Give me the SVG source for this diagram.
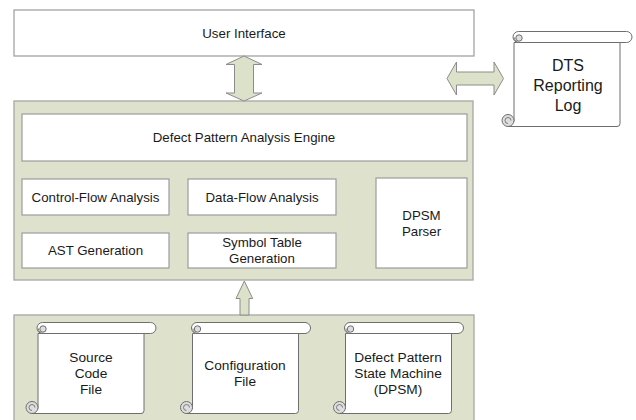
<svg xmlns="http://www.w3.org/2000/svg" width="636" height="420" viewBox="0 0 636 420">
<style>
.box{fill:#ffffff;stroke:#9c9c9c;stroke-width:1.2}
.cont{fill:#dee2cc;stroke:#a6a6a6;stroke-width:1.3}
.arr{fill:#dce1c9;stroke:#8c8c8c;stroke-width:1}
.t{font-family:"Liberation Sans",Arial,sans-serif;font-size:13.3px;fill:#1a1a1a;text-anchor:middle}
.ts{font-family:"Liberation Sans",Arial,sans-serif;font-size:13.7px;fill:#1a1a1a;text-anchor:middle}
.tl{font-family:"Liberation Sans",Arial,sans-serif;font-size:16px;fill:#1a1a1a;text-anchor:middle}
.sc{fill:#ffffff;stroke:#6e6e6e;stroke-width:1}
.curl{fill:#dedede;stroke:#6e6e6e;stroke-width:1}
.cl{fill:none;stroke:#6e6e6e;stroke-width:0.9}
</style>
<defs>
<g id="scroll">
<path class="sc" d="M1,11 L1,86 L-5,91 L104,91 A3,3 0 0 0 107,88 L107,11 Z"/>
<circle class="curl" cx="-5" cy="85" r="6"/>
<path class="cl" d="M1,91 L-5,91 M-2,85 A3,3 0 1 0 -5,88"/>
<rect class="sc" x="0" y="0" width="119" height="11" rx="5.5" ry="5.5"/>
<circle class="curl" cx="6" cy="6.5" r="3.2"/>
<path class="cl" d="M6,11 A4.5,4.5 0 0 1 1.5,6"/>
</g>
<g id="scrollT">
<path class="sc" d="M1,11 L1,90 L-5,95 L104,95 A3,3 0 0 0 107,92 L107,11 Z"/>
<circle class="curl" cx="-5" cy="89" r="6"/>
<path class="cl" d="M1,95 L-5,95 M-2,89 A3,3 0 1 0 -5,92"/>
<rect class="sc" x="0" y="0" width="119" height="11" rx="5.5" ry="5.5"/>
<circle class="curl" cx="6" cy="6.5" r="3.2"/>
<path class="cl" d="M6,11 A4.5,4.5 0 0 1 1.5,6"/>
</g>
</defs>

<g id="user-interface">
<rect class="box" x="14" y="10" width="460" height="46"/>
<text class="t" x="244" y="38">User Interface</text>
</g>

<g id="engine-container">
<rect class="cont" x="14" y="101" width="459" height="179"/>
</g>

<g id="defect-pattern-analysis-engine">
<rect class="box" x="22" y="114" width="445" height="47"/>
<text class="t" x="244" y="142">Defect Pattern Analysis Engine</text>
</g>

<g id="control-flow-analysis">
<rect class="box" x="22" y="179" width="147" height="36"/>
<text class="t" x="95.5" y="201.5">Control-Flow Analysis</text>
</g>

<g id="data-flow-analysis">
<rect class="box" x="188" y="179" width="148" height="36"/>
<text class="t" x="262" y="201.5">Data-Flow Analysis</text>
</g>

<g id="ast-generation">
<rect class="box" x="22" y="233" width="147" height="35"/>
<text class="t" x="95.5" y="255">AST Generation</text>
</g>

<g id="symbol-table-generation">
<rect class="box" x="188" y="233" width="148" height="35"/>
<text class="t" x="262" y="247">Symbol Table</text>
<text class="t" x="262" y="262.5">Generation</text>
</g>

<g id="dpsm-parser">
<rect class="box" x="376" y="178" width="91" height="90"/>
<text class="t" x="421.5" y="220">DPSM</text>
<text class="t" x="421.5" y="235.5">Parser</text>
</g>

<g id="input-container">
<rect class="cont" x="14" y="315" width="460" height="112"/>
</g>

<g id="source-code-file">
<use href="#scroll" x="37" y="322.5"/>
<text class="ts" x="91" y="362">Source</text>
<text class="ts" x="91" y="378">Code</text>
<text class="ts" x="91" y="394">File</text>
</g>

<g id="configuration-file">
<use href="#scroll" x="191.5" y="322.5"/>
<text class="ts" x="245" y="369.5">Configuration</text>
<text class="ts" x="245" y="385.5">File</text>
</g>

<g id="dpsm">
<use href="#scroll" x="344.5" y="322.5"/>
<text class="ts" x="398" y="362">Defect Pattern</text>
<text class="ts" x="398" y="378">State Machine</text>
<text class="ts" x="398" y="394">(DPSM)</text>
</g>

<g id="dts-reporting-log">
<use href="#scrollT" x="513" y="31.5"/>
<text class="tl" x="568" y="71">DTS</text>
<text class="tl" x="568" y="91">Reporting</text>
<text class="tl" x="568" y="111">Log</text>
</g>

<g id="connectors">
<path class="arr" d="M244,56 L262,64.5 L253.5,64.5 L253.5,93 L262,93 L244,101 L226,93 L234.5,93 L234.5,64.5 L226,64.5 Z"/>
<path class="arr" d="M447,78.5 L456.5,62 L456.5,72 L494,72 L494,62 L503.5,78.5 L494,95 L494,85 L456.5,85 L456.5,95 Z"/>
<path class="arr" d="M244.3,281 L252.7,298.5 L249,298.5 L249,315 L240,315 L240,298.5 L236,298.5 Z"/>
</g>
</svg>
